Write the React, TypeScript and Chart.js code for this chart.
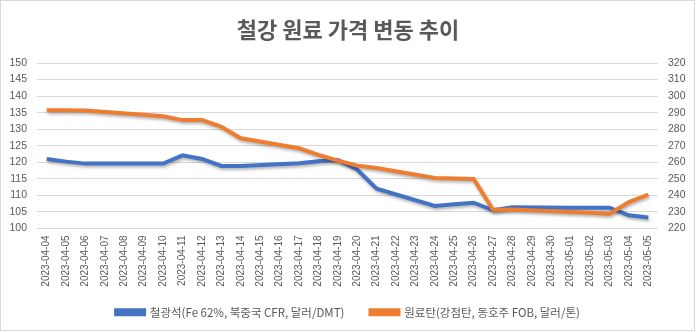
import React, { useEffect, useRef } from "react";
import { Chart, registerables } from "chart.js";

Chart.register(...registerables);

const TITLE = "철강 원료 가격 변동 추이";
const SERIES_IRON = "철광석(Fe 62%, 북중국 CFR, 달러/DMT)";
const SERIES_COAL = "원료탄(강점탄, 동호주 FOB, 달러/톤)";

const dates = [
  "2023-04-04", "2023-04-05", "2023-04-06", "2023-04-07", "2023-04-08", "2023-04-09",
  "2023-04-10", "2023-04-11", "2023-04-12", "2023-04-13", "2023-04-14", "2023-04-15",
  "2023-04-16", "2023-04-17", "2023-04-18", "2023-04-19", "2023-04-20", "2023-04-21",
  "2023-04-22", "2023-04-23", "2023-04-24", "2023-04-25", "2023-04-26", "2023-04-27",
  "2023-04-28", "2023-04-29", "2023-04-30", "2023-05-01", "2023-05-02", "2023-05-03",
  "2023-05-04", "2023-05-05",
];

// 철광석 (left axis)
const ironOre: (number | null)[] = [
  121.0, 120.2, 119.6, null, null, null,
  119.6, 122.1, 121.0, 118.9, 118.9, null,
  null, 119.7, 120.3, 120.7, 117.8, 112.0,
  null, null, 106.8, 107.3, 107.8, 105.5,
  106.4, null, null, 106.3, 106.3, 106.3,
  104.0, 103.3,
];

// 원료탄 (right axis)
const cokingCoal: (number | null)[] = [
  291.5, 291.5, 291.3, null, null, null,
  287.8, 285.5, 285.5, 281.5, 274.5, null,
  null, 268.5, 264.5, 261.0, 258.0, 256.5,
  null, null, 250.5, 250.2, 249.9, 231.3,
  231.5, null, null, 230.0, 229.5, 228.8,
  236.0, 240.4,
];

const leftTicks = { min: 100, max: 150, step: 5 };
const rightTicks = { min: 220, max: 320, step: 10 };

const BLUE = "#4472C4";
const ORANGE = "#ED7D31";
const TEXT = "#595959";
const GRID = "#D9D9D9";

const shadowPlugin = {
  id: "lineShadow",
  beforeDatasetsDraw(chart: any) {
    const ctx = chart.ctx;
    ctx.save();
    ctx.shadowColor = "rgba(0,0,0,0.3)";
    ctx.shadowBlur = 3;
    ctx.shadowOffsetX = 1;
    ctx.shadowOffsetY = 2;
  },
  afterDatasetsDraw(chart: any) {
    chart.ctx.restore();
  },
};

export default function App() {
  const ref = useRef<HTMLCanvasElement>(null);

  useEffect(() => {
    if (!ref.current) return;
    const chart = new Chart(ref.current, {
      type: "line",
      data: {
        labels: dates,
        datasets: [
          {
            label: SERIES_IRON,
            data: ironOre,
            borderColor: BLUE,
            backgroundColor: BLUE,
            borderWidth: 4,
            pointRadius: 0,
            tension: 0,
            spanGaps: true,
            yAxisID: "y",
            order: 1,
          },
          {
            label: SERIES_COAL,
            data: cokingCoal,
            borderColor: ORANGE,
            backgroundColor: ORANGE,
            borderWidth: 4,
            pointRadius: 0,
            tension: 0,
            spanGaps: true,
            yAxisID: "y1",
            order: 0,
          },
        ],
      },
      options: {
        responsive: false,
        animation: false,
        layout: { padding: { left: 0, right: 0, top: 0, bottom: 4 } },
        plugins: {
          title: {
            display: true,
            text: TITLE,
            color: TEXT,
            font: { family: '"Noto Sans CJK KR", sans-serif', size: 22, weight: "bold", lineHeight: 1.2 },
            padding: { top: 16, bottom: 20.6 },
          },
          legend: {
            position: "bottom",
            labels: {
              color: TEXT,
              font: { family: '"Noto Sans CJK KR", sans-serif', size: 11.5 },
              boxWidth: 28,
              boxHeight: 4,
              padding: 26,
              sort: (a: any, b: any) => a.datasetIndex - b.datasetIndex,
            },
          },
          tooltip: { enabled: false },
        },
        scales: {
          x: {
            type: "category",
            offset: true,
            grid: { display: false, drawTicks: false },
            border: { display: false },
            ticks: {
              autoSkip: false,
              maxRotation: 90,
              minRotation: 90,
              padding: 7,
              color: TEXT,
              font: { family: '"Liberation Sans", sans-serif', size: 10 },
            },
            afterFit(scale: any) {
              scale.height = 52;
              scale._computeLabelArea = () => undefined;
            },
          },
          y: {
            position: "left",
            min: leftTicks.min,
            max: leftTicks.max,
            grid: { color: GRID, lineWidth: 1, drawTicks: false },
            border: { display: false },
            ticks: {
              stepSize: leftTicks.step,
              padding: 10,
              color: TEXT,
              font: { family: '"Liberation Sans", sans-serif', size: 10.5 },
            },
            afterFit(scale: any) {
              scale.width = 37;
            },
          },
          y1: {
            position: "right",
            min: rightTicks.min,
            max: rightTicks.max,
            grid: { drawOnChartArea: false, drawTicks: false },
            border: { display: false },
            ticks: {
              stepSize: rightTicks.step,
              padding: 10,
              color: TEXT,
              font: { family: '"Liberation Sans", sans-serif', size: 10.5 },
            },
            afterFit(scale: any) {
              scale.width = 38;
            },
          },
        },
      },
      plugins: [shadowPlugin],
    } as any);
    return () => chart.destroy();
  }, []);

  return (
    <div style={{ position: "fixed", left: 0, top: 0, width: 696, height: 332, background: "#fff" }}>
      <canvas ref={ref} width={696} height={332} style={{ display: "block" }} />
      <div
        style={{
          position: "absolute",
          left: 0,
          top: 0,
          width: 695,
          height: 331,
          boxSizing: "border-box",
          border: "1px solid #D9D9D9",
          pointerEvents: "none",
        }}
      />
    </div>
  );
}
